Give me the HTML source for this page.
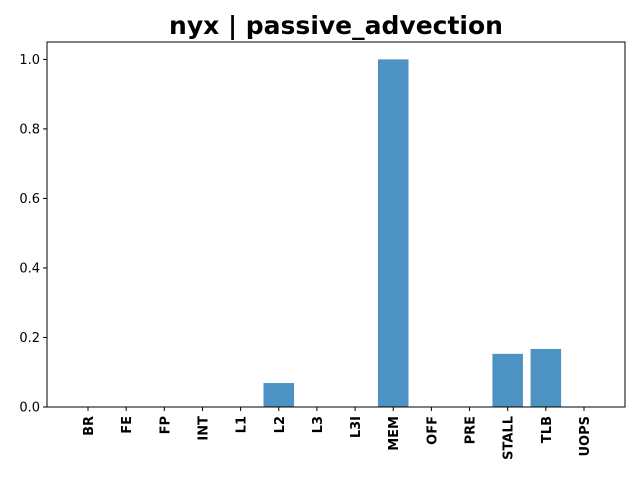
<!DOCTYPE html>
<html><head><meta charset="utf-8"><style>
body{margin:0;background:#fff;font-family:"Liberation Sans","DejaVu Sans",sans-serif;}
</style></head><body>
<svg id="chart" width="640" height="480" xmlns="http://www.w3.org/2000/svg">
<rect width="640" height="480" fill="#fff"/>
<text x="336" y="34" text-anchor="middle" font-size="25" font-weight="bold" font-family="DejaVu Sans, sans-serif">nyx | passive_advection</text>
<g id="bars"></g>
<g id="axes"></g>
</svg>
<script>
const categories=["BR","FE","FP","INT","L1","L2","L3","L3I","MEM","OFF","PRE","STALL","TLB","UOPS"];
const values=[0,0,0,0,0,0.069,0,0,1.0,0,0,0.153,0.167,0];
const yTicks=[0,0.2,0.4,0.6,0.8,1.0];
const yTickLabels=["0.0","0.2","0.4","0.6","0.8","1.0"];
const L=47,R=625,T=42,B=407;
const xmin=-1.075,xmax=14.075,ymax=1.05;
const NS="http://www.w3.org/2000/svg";
function xs(i){return L+(i-xmin)/(xmax-xmin)*(R-L);}
function ys(v){return B-v/ymax*(B-T);}
const bw=0.8*(R-L)/(xmax-xmin);
const bars=document.getElementById('bars'),axes=document.getElementById('axes');
function mk(tag,attrs,parent){const e=document.createElementNS(NS,tag);for(const k in attrs)e.setAttribute(k,attrs[k]);parent.appendChild(e);return e;}
categories.forEach((c,i)=>{
  const r=mk('rect',{x:xs(i)-bw/2,y:ys(values[i]),width:bw,height:B-ys(values[i]),fill:'#4c93c3'},bars);
  
  
  const t=mk('line',{x1:xs(i),x2:xs(i),y1:B,y2:B+4,stroke:'#000','stroke-width':1},axes);
  
  
  const lb=mk('text',{x:0,y:0,transform:`translate(${xs(i)+5},${B+9}) rotate(-90)`,'text-anchor':'end','font-size':13,'font-weight':'bold','font-family':'DejaVu Sans, sans-serif'},axes);
  lb.textContent=c;
  
  
});
yTicks.forEach((v,i)=>{
  const t=mk('line',{x1:L-4,x2:L,y1:ys(v),y2:ys(v),stroke:'#000','stroke-width':1},axes);
  
  
  const lb=mk('text',{x:L-7,y:ys(v)+4.5,'text-anchor':'end','font-size':13,'font-family':'DejaVu Sans, sans-serif'},axes);
  lb.textContent=yTickLabels[i];
  
  
});
const fr=mk('rect',{x:L,y:T,width:R-L,height:B-T,fill:'none',stroke:'#000','stroke-width':1},axes);


</script>
</body></html>
